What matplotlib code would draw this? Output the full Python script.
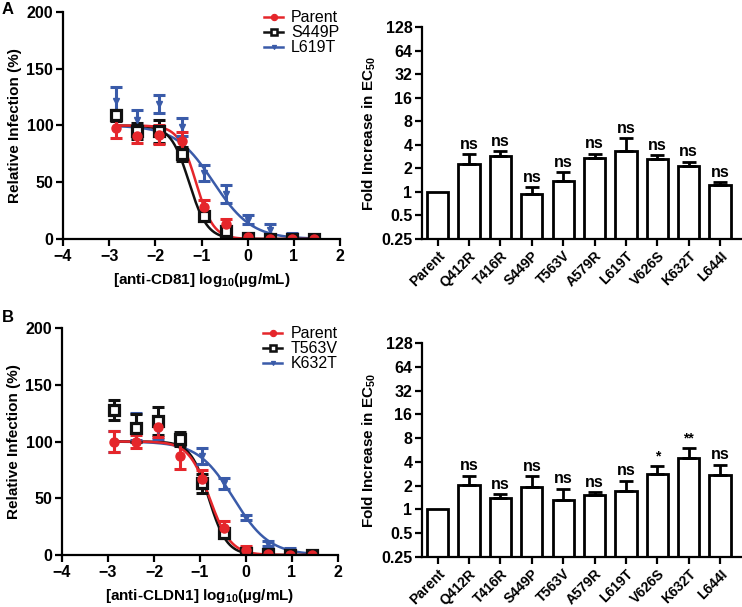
"""Neutralisation curves and EC50 fold change for anti-CD81 / anti-CLDN1."""

import numpy as np
import matplotlib
matplotlib.use("Agg")
import matplotlib.pyplot as plt
from matplotlib.lines import Line2D
from matplotlib.ticker import FixedLocator, FixedFormatter

plt.rcParams["font.family"] = ["Liberation Sans", "DejaVu Sans"]
plt.rcParams["mathtext.default"] = "regular"

# log10 concentrations (3-fold dilution series)
log_conc = [-2.86, -2.39, -1.91, -1.43, -0.95, -0.48, 0.0, 0.48, 0.95, 1.43]

# Panel A: anti-CD81
a_names = ["Parent", "S449P", "L619T"]
a_mean = {
    "Parent": [98, 91, 92, 86, 28, 13, 2, 0, 0, 0],
    "S449P": [109, 95, 95, 75, 20, 7, 1, 0, 0, 0],
    "L619T": [122, 105, 119, 99, 58, 40, 17, 8, 2, 0],
}
a_err = {
    "Parent": [9, 6, 8, 8, 6, 5, 2, 1, 1, 1],
    "S449P": [5, 7, 10, 6, 3, 2, 1, 1, 1, 1],
    "L619T": [12, 9, 8, 8, 7, 8, 4, 5, 3, 1],
}
a_log_ec50 = {"Parent": -1.12, "S449P": -1.27, "L619T": -0.74}
a_hill = {"Parent": 2.3, "S449P": 2.2, "L619T": 1.05}

# Panel B: anti-CLDN1
b_names = ["Parent", "T563V", "K632T"]
b_mean = {
    "Parent": [100, 100, 113, 87, 67, 24, 4, 1, 0, 0],
    "T563V": [128, 112, 118, 102, 63, 19, 2, 1, 0, 0],
    "K632T": [100, 113, 110, 102, 87, 63, 33, 10, 3, 0],
}
b_err = {
    "Parent": [9, 6, 9, 11, 8, 6, 4, 1, 1, 1],
    "T563V": [9, 12, 12, 6, 8, 4, 1, 1, 1, 1],
    "K632T": [9, 12, 8, 5, 7, 5, 2, 2, 3, 1],
}
b_log_ec50 = {"Parent": -0.79, "T563V": -0.81, "K632T": -0.27}
b_hill = {"Parent": 1.9, "T563V": 2.2, "K632T": 1.12}

# Fold increase in EC50
mutants = ["Parent", "Q412R", "T416R", "S449P", "T563V", "A579R",
           "L619T", "V626S", "K632T", "L644I"]
fold_a = [1.0, 2.27, 2.89, 0.93, 1.37, 2.69, 3.34, 2.62, 2.17, 1.23]
fold_a_top = [1.0, 3.03, 3.30, 1.14, 1.79, 3.07, 4.85, 2.95, 2.43, 1.32]
sig_a = ["", "ns", "ns", "ns", "ns", "ns", "ns", "ns", "ns", "ns"]
fold_b = [1.0, 2.03, 1.39, 1.93, 1.31, 1.52, 1.72, 2.81, 4.48, 2.70]
fold_b_top = [1.0, 2.67, 1.56, 2.64, 1.83, 1.64, 2.31, 3.58, 6.06, 3.70]
sig_b = ["", "ns", "ns", "ns", "ns", "ns", "ns", "*", "**", "ns"]

STYLE = {
    "Parent": dict(color="#E5262B", marker="o", mfc="#E5262B", ms=6.5, mew=1),
    "mutA": dict(color="#111111", marker="s", mfc="white", ms=6.5, mew=2.3),
    "mutB": dict(color="#3A5BA9", marker="v", mfc="#3A5BA9", ms=5, mew=1),
}

W, H = 742, 607


def add_axes(fig, left, top, right, bottom):
    return fig.add_axes([left / W, 1 - bottom / H, (right - left) / W, (bottom - top) / H])


def style_spines(ax, size):
    for s in ["top", "right"]:
        ax.spines[s].set_visible(False)
    for s in ["left", "bottom"]:
        ax.spines[s].set_linewidth(1.6)
        ax.spines[s].set_zorder(5)
    ax.tick_params(width=1.6, length=5, labelsize=size, pad=2)
    for lab in ax.get_xticklabels() + ax.get_yticklabels():
        lab.set_fontweight("bold")


def four_pl(x, log_ec50, hill):
    return 100.0 / (1.0 + 10 ** ((x - log_ec50) * hill))


def curve_panel(ax, names, means, errs, ec50s, hills, xlabel):
    x = np.array(log_conc)
    xs = np.linspace(x.min(), x.max(), 300)
    styles = [STYLE["Parent"], STYLE["mutA"], STYLE["mutB"]]
    for i in [2, 1, 0]:
        nm = names[i]
        st = styles[i]
        ax.plot(xs, four_pl(xs, ec50s[nm], hills[nm]), color=st["color"], lw=1.8, zorder=2)
        ax.errorbar(x, means[nm], yerr=errs[nm], fmt="none", ecolor=st["color"],
                    elinewidth=2.2, capsize=4, capthick=2.2, zorder=3)
        ax.plot(x, means[nm], ls="none", marker=st["marker"], color=st["color"],
                mfc=st["mfc"], ms=st["ms"], mew=st["mew"], zorder=4)
    ax.set_xlim(-4, 2)
    ax.set_ylim(0, 200)
    ax.set_xticks([-4, -3, -2, -1, 0, 1, 2])
    ax.set_yticks([0, 50, 100, 150, 200])
    ax.set_ylabel("Relative Infection (%)", fontsize=11, fontweight="bold", labelpad=3)
    ax.set_xlabel(xlabel, fontsize=11, fontweight="bold", labelpad=5)
    style_spines(ax, 11.5)
    handles = [Line2D([0], [0], color=st["color"], marker=st["marker"], mfc=st["mfc"],
                      ms=st["ms"] - 2, mew=st["mew"] * 0.8, lw=1.8) for st in styles]
    ax.legend(handles, names, loc="upper right", bbox_to_anchor=(1.05, 1.07), frameon=False,
              fontsize=11.5, handlelength=1.2, handletextpad=0.5, labelspacing=0.0)


def fold_panel(ax, vals, tops, sigs):
    x = np.arange(len(mutants))
    base = 0.25
    heights = np.array(vals) - base
    ax.bar(x, heights, bottom=base, width=0.68, color="white", edgecolor="black",
           linewidth=2.0, zorder=2)
    upper = np.array(tops) - np.array(vals)
    ax.errorbar(x[1:], np.array(vals)[1:], yerr=[np.zeros(len(x) - 1), upper[1:]], fmt="none",
                ecolor="black", elinewidth=2.0, capsize=5, capthick=2.0, zorder=3)
    for xi, t, s in zip(x, tops, sigs):
        if not s:
            continue
        fs = 11.5 if s == "ns" else 10
        ax.text(xi, t * 1.07, s, ha="center", va="bottom", fontsize=fs, fontweight="bold")
    ax.set_yscale("log", base=2)
    ax.set_ylim(0.25, 128)
    ax.set_xlim(-0.5, 9.7)
    ticks = [0.25, 0.5, 1, 2, 4, 8, 16, 32, 64, 128]
    ax.yaxis.set_major_locator(FixedLocator(ticks))
    ax.yaxis.set_major_formatter(FixedFormatter(["0.25", "0.5", "1", "2", "4", "8", "16", "32", "64", "128"]))
    ax.yaxis.set_minor_locator(FixedLocator([]))
    ax.set_xticks(x)
    ax.set_xticklabels(mutants, rotation=45, ha="right", rotation_mode="anchor")
    ax.set_ylabel("Fold Increase in EC$_{50}$", fontsize=11, fontweight="bold", labelpad=2)
    style_spines(ax, 11.5)
    for lab in ax.get_xticklabels():
        lab.set_fontsize(10)


fig = plt.figure(figsize=(W / 100, H / 100), dpi=100)

ax1 = add_axes(fig, 63, 12, 340, 239)
curve_panel(ax1, a_names, a_mean, a_err, a_log_ec50, a_hill, "[anti-CD81] log$_{10}$(µg/mL)")
ax2 = add_axes(fig, 422, 27, 742, 239)
fold_panel(ax2, fold_a, fold_a_top, sig_a)

ax3 = add_axes(fig, 62, 328, 338, 555)
curve_panel(ax3, b_names, b_mean, b_err, b_log_ec50, b_hill, "[anti-CLDN1] log$_{10}$(µg/mL)")
ax4 = add_axes(fig, 422, 343, 742, 557)
fold_panel(ax4, fold_b, fold_b_top, sig_b)

fig.text(2 / W, 1 - 2 / H, "A", fontsize=12, fontweight="bold", va="top", ha="left")
fig.text(2 / W, 1 - 310 / H, "B", fontsize=12, fontweight="bold", va="top", ha="left")

fig.savefig("out.png", dpi=100)
